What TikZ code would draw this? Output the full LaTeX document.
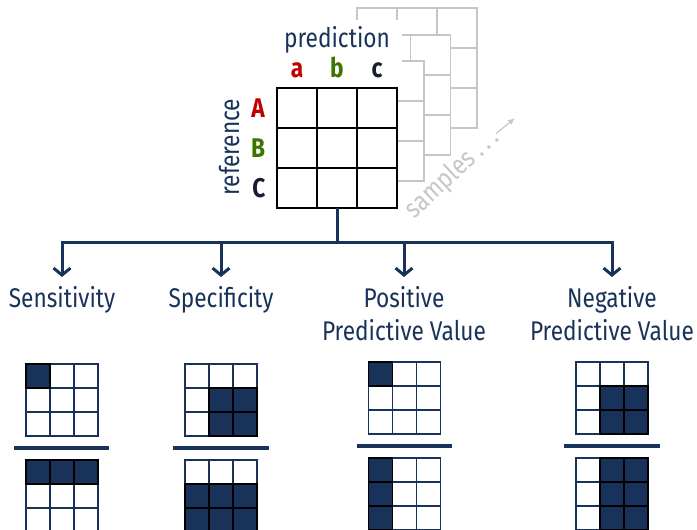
\documentclass[tikz,border=0pt]{standalone}
\usepackage{fontspec}
\setmainfont{Fira Sans}[FakeStretch=0.84]
\usetikzlibrary{arrows.meta,positioning}

\definecolor{esanavy}{RGB}{24,50,90}
\definecolor{esared}{RGB}{192,0,0}
\definecolor{esagreen}{RGB}{58,118,0}
\definecolor{esadark}{RGB}{22,30,48}
\definecolor{layergray}{RGB}{198,198,198}

\tikzset{
  heading/.style={font=\fontsize{27}{33}\selectfont, text=esanavy, align=center,
    anchor=north, inner xsep=2pt, inner ysep=9pt},
  classlabel/.style={font=\fontsize{27}{30}\selectfont\bfseries, inner sep=0pt, anchor=base},
  branch/.style={draw=esanavy, line width=3pt,
    -{Straight Barb[length=7pt,width=17pt,line width=3pt]}},
  confcell/.style={draw=black, line width=2pt},
  layercell/.style={draw=layergray, line width=1.8pt},
  cellgrid/.style={draw=esanavy, line width=1.6pt},
  cellhit/.style={draw=black, fill=esanavy, line width=1.6pt},
  ratiobar/.style={draw=esanavy, line width=3.5pt},
}

% 3x3 grid of 24pt cells; #1,#2 = top-left corner, #3 = filled col/row pairs
\newcommand{\ratiogrid}[3]{%
  \foreach \c in {0,1,2}
    \foreach \r in {0,1,2}
      \draw[cellgrid] ({#1+24*\c},{#2+24*\r}) rectangle ++(24,24);
  \foreach \c/\r in {#3}
    \draw[cellhit] ({#1+24*\c},{#2+24*\r}) rectangle ++(24,24);
}

\begin{document}
\begin{tikzpicture}[x=1pt,y=-1pt]
  \useasboundingbox (0,0) rectangle (697,530);
  \clip (0,0) rectangle (697,530);

  % stacked sample matrices behind the front one
  \foreach \k in {3,2,1} {
    \fill[white] ({277+26.7*\k},{88-26.7*\k}) rectangle ++(120,120);
    \foreach \c in {0,1,2}
      \foreach \r in {0,1,2}
        \draw[layercell] ({277+26.7*\k+40*\c},{88-26.7*\k+40*\r}) rectangle ++(40,40);
  }
  \fill[white] (268,20) rectangle (401.7,87);

  % confusion matrix
  \node (cm) [fill=white, minimum size=120pt, inner sep=0pt] at (337,148) {};
  \foreach \c in {0,1,2}
    \foreach \r in {0,1,2}
      \draw[confcell] ({277+40*\c},{88+40*\r}) rectangle ++(40,40);

  \node (pred) [font=\fontsize{27}{30}\selectfont, text=esanavy, anchor=base] at (337,47) {prediction};
  \node (pa) [classlabel, text=esared]   at (297,77) {a};
  \node (pb) [classlabel, text=esagreen] at (337,77) {b};
  \node (pc) [classlabel, text=esadark]  at (377,77) {c};
  \node (ref) [font=\fontsize{27}{30}\selectfont, text=esanavy, rotate=90, anchor=base] at (239,147) {reference};
  \node (ra) [classlabel, text=esared]   at (258,117) {A};
  \node (rb) [classlabel, text=esagreen] at (258,157) {B};
  \node (rc) [classlabel, text=esadark]  at (259,197) {C};

  \node (samp) [font=\fontsize{27}{30}\selectfont, text=layergray, rotate=43, anchor=base west,
    inner sep=1pt] at (414,220) {samples .\,.\,.};
  \coordinate (sampend) at (515,118);
  \draw[layergray, line width=1.2pt, -{Latex[length=7pt,width=6pt]}] (samp.east) -- (sampend);

  % measures
  \node (sens) [heading] at (62,277)  {Sensitivity};
  \node (spec) [heading] at (221,277) {Specificity};
  \node (ppv)  [heading] at (404,277) {Positive\\Predictive Value};
  \node (npv)  [heading] at (612,277) {Negative\\Predictive Value};

  \coordinate (fork) at (337,242);
  \draw[draw=esanavy, line width=3pt] (cm.south) -- (fork);
  \draw[branch] (fork) -| (sens.north);
  \draw[branch] (fork) -| (spec.north);
  \draw[branch] (fork) -| (ppv.north);
  \draw[branch] (fork) -| (npv.north);

  % ratio grids
  \ratiogrid{25.7}{364}{0/0}
  \draw[ratiobar] (14,448) -- (109,448);
  \ratiogrid{25.7}{460}{0/0,1/0,2/0}

  \ratiogrid{185}{364}{1/1,2/1,1/2,2/2}
  \draw[ratiobar] (173,448) -- (269,448);
  \ratiogrid{185}{460}{0/1,1/1,2/1,0/2,1/2,2/2}

  \ratiogrid{368.3}{362}{0/0}
  \draw[ratiobar] (356.7,446) -- (452.3,446);
  \ratiogrid{368.3}{458}{0/0,0/1,0/2}

  \ratiogrid{575.7}{362}{1/1,2/1,1/2,2/2}
  \draw[ratiobar] (564,446) -- (660,446);
  \ratiogrid{575.7}{458}{1/0,2/0,1/1,2/1,1/2,2/2}
\end{tikzpicture}
\end{document}
